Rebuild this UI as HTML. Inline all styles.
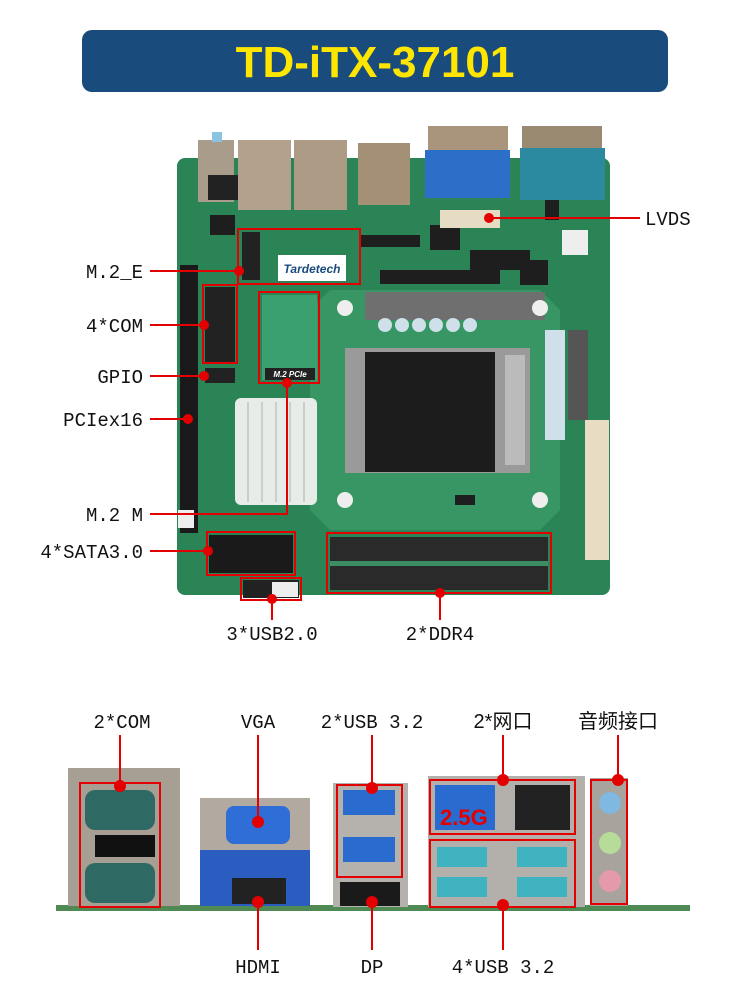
<!DOCTYPE html>
<html><head><meta charset="utf-8"><style>
html,body{margin:0;padding:0;background:#fff;width:750px;height:1000px;overflow:hidden}
svg{display:block}
.l{font-family:"Liberation Mono","Noto Sans CJK SC",monospace;font-size:19px;fill:#111}
.c{font-family:"Liberation Sans","Noto Sans CJK SC",sans-serif;font-size:20px;fill:#111}
</style></head><body>
<svg width="750" height="1000" viewBox="0 0 750 1000" xmlns="http://www.w3.org/2000/svg">
<rect x="82" y="30" width="586" height="62" rx="10" fill="#1a4b7d"/>
<text x="375" y="77" text-anchor="middle" font-family="Liberation Sans,sans-serif" font-weight="bold" font-size="44" fill="#ffe600">TD-iTX-37101</text>

<rect x="177" y="158" width="433" height="437" rx="8" fill="#2a8456"/>
<polygon points="330,290 540,290 560,310 560,510 540,530 330,530 310,510 310,310" fill="#379663"/>
<!-- small chips for texture -->
<g fill="#1e1e1e">
<rect x="360" y="235" width="60" height="12"/><rect x="430" y="225" width="30" height="25"/>
<rect x="470" y="250" width="60" height="20"/><rect x="380" y="270" width="120" height="14"/>
<rect x="545" y="180" width="14" height="40"/><rect x="210" y="215" width="25" height="20"/>
<rect x="455" y="495" width="20" height="10"/><rect x="520" y="260" width="28" height="25"/>
</g>
<rect x="198" y="140" width="36" height="62" fill="#a99c8a"/>
<rect x="238" y="140" width="53" height="70" fill="#b3a18d"/>
<rect x="294" y="140" width="53" height="70" fill="#ad9b86"/>
<rect x="358" y="143" width="52" height="62" fill="#a48f77"/>
<rect x="212" y="132" width="10" height="10" fill="#8ac4e0"/>
<rect x="428" y="126" width="80" height="30" fill="#a8957c"/>
<rect x="425" y="150" width="85" height="48" fill="#2c6fc8"/>
<rect x="522" y="126" width="80" height="25" fill="#9a8a72"/>
<rect x="520" y="148" width="85" height="52" fill="#2b8aa0"/>
<rect x="440" y="210" width="60" height="18" fill="#e6dcc4"/>
<rect x="180" y="265" width="18" height="268" fill="#1a1a1a"/>
<rect x="178" y="510" width="16" height="18" fill="#eee"/>
<rect x="205" y="287" width="30" height="75" fill="#222"/>
<rect x="205" y="368" width="30" height="15" fill="#222"/>
<rect x="208" y="175" width="30" height="25" fill="#222"/>
<rect x="242" y="232" width="18" height="48" fill="#222"/>
<rect x="278" y="255" width="68" height="26" fill="#fff"/>
<text x="312" y="273" text-anchor="middle" font-family="Liberation Sans,sans-serif" font-style="italic" font-weight="bold" font-size="12" fill="#1a4b7d">Tardetech</text>
<rect x="262" y="295" width="55" height="85" fill="#3aa070"/>
<rect x="265" y="368" width="50" height="12" fill="#222"/>
<text x="290" y="377" text-anchor="middle" font-family="Liberation Sans,sans-serif" font-style="italic" font-weight="bold" font-size="8" fill="#fff">M.2 PCIe</text>
<rect x="235" y="398" width="82" height="107" rx="6" fill="#e8ece8"/>
<g stroke="#c9cfc9" stroke-width="2"><line x1="248" y1="402" x2="248" y2="502"/><line x1="262" y1="402" x2="262" y2="502"/><line x1="276" y1="402" x2="276" y2="502"/><line x1="290" y1="402" x2="290" y2="502"/><line x1="304" y1="402" x2="304" y2="502"/></g>
<rect x="365" y="292" width="180" height="28" fill="#6f6f6f"/>
<g fill="#cfe0ea"><circle cx="385" cy="325" r="7"/><circle cx="402" cy="325" r="7"/><circle cx="419" cy="325" r="7"/><circle cx="436" cy="325" r="7"/><circle cx="453" cy="325" r="7"/><circle cx="470" cy="325" r="7"/></g>
<rect x="545" y="330" width="20" height="110" fill="#cfe0ea"/>
<rect x="568" y="330" width="20" height="90" fill="#555"/>
<circle cx="345" cy="308" r="8" fill="#eee"/><circle cx="540" cy="308" r="8" fill="#eee"/>
<circle cx="345" cy="500" r="8" fill="#eee"/><circle cx="540" cy="500" r="8" fill="#eee"/>
<rect x="345" y="348" width="185" height="125" fill="#9a9a9a"/>
<rect x="365" y="352" width="130" height="120" fill="#1c1c1c"/>
<rect x="505" y="355" width="20" height="110" fill="#bbb"/>
<rect x="585" y="420" width="24" height="140" fill="#e8dcc3"/>
<rect x="562" y="230" width="26" height="25" fill="#eee"/>
<rect x="209" y="535" width="84" height="38" fill="#1a1a1a"/>
<rect x="330" y="537" width="218" height="53" fill="#2a2a2a"/>
<rect x="330" y="561" width="218" height="5" fill="#3d8d62"/>
<rect x="243" y="580" width="56" height="18" fill="#222"/>
<rect x="272" y="582" width="26" height="15" fill="#eee"/>

<g fill="none" stroke="#e30000" stroke-width="2">
<rect x="238" y="229" width="122" height="55"/>
<rect x="203" y="285" width="34" height="78"/>
<rect x="259" y="292" width="60" height="91"/>
<rect x="207" y="532" width="88" height="43"/>
<rect x="241" y="578" width="60" height="22"/>
<rect x="327" y="533" width="224" height="60"/>
</g>
<g stroke="#e30000" stroke-width="2" fill="none">
<line x1="150" y1="271" x2="239" y2="271"/>
<line x1="150" y1="325" x2="204" y2="325"/>
<line x1="150" y1="376" x2="204" y2="376"/>
<line x1="150" y1="419" x2="188" y2="419"/>
<polyline points="150,514 287,514 287,383"/>
<line x1="150" y1="551" x2="208" y2="551"/>
<line x1="489" y1="218" x2="640" y2="218"/>
<line x1="272" y1="599" x2="272" y2="620"/>
<line x1="440" y1="593" x2="440" y2="620"/>
</g>
<g fill="#e30000">
<circle cx="239" cy="271" r="5"/><circle cx="204" cy="325" r="5"/><circle cx="204" cy="376" r="5"/>
<circle cx="188" cy="419" r="5"/><circle cx="287" cy="383" r="5"/><circle cx="208" cy="551" r="5"/>
<circle cx="489" cy="218" r="5"/><circle cx="272" cy="599" r="5"/><circle cx="440" cy="593" r="5"/>
</g>
<text class="l" x="143" y="278" text-anchor="end">M.2_E</text>
<text class="l" x="143" y="332" text-anchor="end">4*COM</text>
<text class="l" x="143" y="383" text-anchor="end">GPIO</text>
<text class="l" x="143" y="426" text-anchor="end">PCIex16</text>
<text class="l" x="143" y="521" text-anchor="end">M.2 M</text>
<text class="l" x="143" y="558" text-anchor="end">4*SATA3.0</text>
<text class="l" x="645" y="225">LVDS</text>
<text class="l" x="272" y="640" text-anchor="middle">3*USB2.0</text>
<text class="l" x="440" y="640" text-anchor="middle">2*DDR4</text>

<rect x="56" y="905" width="634" height="6" fill="#4f8a55"/>
<rect x="68" y="768" width="112" height="138" fill="#a79f93"/>
<rect x="85" y="790" width="70" height="40" rx="10" fill="#2e6a63"/>
<rect x="85" y="863" width="70" height="40" rx="10" fill="#2e6a63"/>
<rect x="95" y="835" width="60" height="22" fill="#111"/>
<rect x="200" y="798" width="110" height="54" fill="#b2aaa0"/>
<rect x="200" y="850" width="110" height="56" fill="#2b5cbf"/>
<rect x="226" y="806" width="64" height="38" rx="8" fill="#2f6ed6"/>
<rect x="232" y="878" width="54" height="26" fill="#222"/>
<rect x="333" y="783" width="75" height="124" fill="#b5b2ae"/>
<rect x="343" y="790" width="52" height="25" fill="#2a6bd0"/>
<rect x="343" y="837" width="52" height="25" fill="#2a6bd0"/>
<rect x="340" y="882" width="60" height="24" fill="#1a1a1a"/>
<rect x="428" y="776" width="157" height="131" fill="#b3b0ac"/>
<rect x="435" y="785" width="60" height="45" fill="#2a6bd0"/>
<rect x="515" y="785" width="55" height="45" fill="#222"/>
<rect x="437" y="847" width="50" height="20" fill="#3fb3c0"/>
<rect x="437" y="877" width="50" height="20" fill="#3fb3c0"/>
<rect x="517" y="847" width="50" height="20" fill="#3fb3c0"/>
<rect x="517" y="877" width="50" height="20" fill="#3fb3c0"/>
<text x="440" y="825" font-family="Liberation Sans,sans-serif" font-weight="bold" font-size="22" fill="#e30000">2.5G</text>
<rect x="590" y="778" width="38" height="128" fill="#a8a39d"/>
<circle cx="610" cy="803" r="11" fill="#7fb8e0"/><circle cx="610" cy="843" r="11" fill="#b7dc9a"/><circle cx="610" cy="881" r="11" fill="#e49aa8"/>
<g fill="none" stroke="#e30000" stroke-width="2">
<rect x="80" y="783" width="80" height="124"/>
<rect x="337" y="785" width="65" height="92"/>
<rect x="430" y="780" width="145" height="54"/>
<rect x="430" y="840" width="145" height="67"/>
<rect x="591" y="780" width="36" height="124"/>
<line x1="120" y1="735" x2="120" y2="783"/>
<line x1="258" y1="735" x2="258" y2="822"/>
<line x1="372" y1="735" x2="372" y2="788"/>
<line x1="503" y1="735" x2="503" y2="780"/>
<line x1="618" y1="735" x2="618" y2="780"/>
<line x1="258" y1="902" x2="258" y2="950"/>
<line x1="372" y1="902" x2="372" y2="950"/>
<line x1="503" y1="907" x2="503" y2="950"/>
</g>
<g fill="#e30000">
<circle cx="120" cy="786" r="6"/><circle cx="258" cy="822" r="6"/><circle cx="372" cy="788" r="6"/>
<circle cx="503" cy="780" r="6"/><circle cx="618" cy="780" r="6"/>
<circle cx="258" cy="902" r="6"/><circle cx="372" cy="902" r="6"/><circle cx="503" cy="905" r="6"/>
</g>
<text class="l" x="122" y="728" text-anchor="middle">2*COM</text>
<text class="l" x="258" y="728" text-anchor="middle">VGA</text>
<text class="l" x="372" y="728" text-anchor="middle">2*USB 3.2</text>
<text class="c" x="503" y="728" text-anchor="middle">2*网口</text>
<text class="c" x="618" y="728" text-anchor="middle">音频接口</text>
<text class="l" x="258" y="973" text-anchor="middle">HDMI</text>
<text class="l" x="372" y="973" text-anchor="middle">DP</text>
<text class="l" x="503" y="973" text-anchor="middle">4*USB 3.2</text>
</svg>
</body></html>
